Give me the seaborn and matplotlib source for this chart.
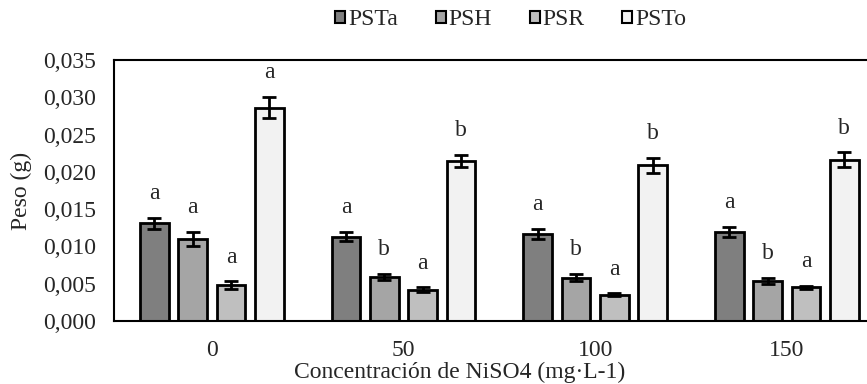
import numpy as np
import pandas as pd
import seaborn as sns
import matplotlib.pyplot as plt

concentraciones = ["0", "50", "100", "150"]
variables = ["PSTa", "PSH", "PSR", "PSTo"]

# medias por variable (g), una por concentracion
psta = [0.0131, 0.0113, 0.0117, 0.0119]
psh = [0.0110, 0.0059, 0.0058, 0.0054]
psr = [0.0048, 0.0042, 0.0035, 0.0045]
psto = [0.0286, 0.0215, 0.0209, 0.0216]

# error estandar
err_psta = [0.0007, 0.0006, 0.0007, 0.0007]
err_psh = [0.0009, 0.0004, 0.0005, 0.0004]
err_psr = [0.0005, 0.0003, 0.0002, 0.0002]
err_psto = [0.0014, 0.0008, 0.0010, 0.0010]

# letras de significancia
let_psta = ["a", "a", "a", "a"]
let_psh = ["a", "b", "b", "b"]
let_psr = ["a", "a", "a", "a"]
let_psto = ["a", "b", "b", "b"]

colores = ["#7f7f7f", "#a5a5a5", "#bfbfbf", "#f2f2f2"]

sns.set_style("white")
plt.rcParams['font.family'] = ['Liberation Serif', 'DejaVu Serif']

df = pd.DataFrame({
    "conc": concentraciones * 4,
    "var": np.repeat(variables, 4),
    "peso": psta + psh + psr + psto,
    "err": err_psta + err_psh + err_psr + err_psto,
    "letra": let_psta + let_psh + let_psr + let_psto,
})

fig = plt.figure(figsize=(8.67, 3.84), dpi=100)
ax = fig.add_axes([0.1315, 0.164, 0.880, 0.680])

sns.barplot(data=df, x="conc", y="peso", hue="var", order=concentraciones,
            hue_order=variables, palette=colores, errorbar=None, gap=0.25,
            edgecolor="black", linewidth=2, ax=ax)

# barras de error y letras sobre cada barra
bars = [p for p in ax.patches if p.get_height() > 0]
for bar, (_, fila) in zip(bars, df.iterrows()):
    xc = bar.get_x() + bar.get_width() / 2
    h = bar.get_height()
    ax.errorbar(xc, h, yerr=fila["err"], color="black", capsize=5,
                elinewidth=2, capthick=2)
    ax.annotate(fila["letra"], (xc, h + fila["err"]), xytext=(0, 10),
                textcoords="offset points", ha="center", va="bottom", fontsize=17)

ax.set_xlim(-0.51, 3.47)
ax.set_ylim(0, 0.035)
ax.set_yticks(np.arange(0, 0.0351, 0.005))
ax.set_yticklabels([f"{v:.3f}".replace(".", ",") for v in np.arange(0, 0.0351, 0.005)])
ax.tick_params(axis="both", labelsize=17, length=0)
ax.tick_params(axis="y", pad=13)
ax.tick_params(axis="x", pad=14)
for s in ax.spines.values():
    s.set_color("black")
    s.set_linewidth(1.5)

ax.set_xlabel("Concentración de NiSO4 (mg·L-1)", fontsize=17, labelpad=0)
ax.xaxis.set_label_coords(0.453, -0.155)
ax.set_ylabel("Peso (g)", fontsize=17, labelpad=8)

leg = ax.legend(title=None, loc="center", bbox_to_anchor=(0.52, 1.153), ncol=4,
                frameon=False, fontsize=17, handlelength=0.42, handleheight=0.42,
                handletextpad=0.12, columnspacing=1.6)
for h in leg.legend_handles:
    h.set_linewidth(1.5)

plt.savefig("out.png", dpi=100)
